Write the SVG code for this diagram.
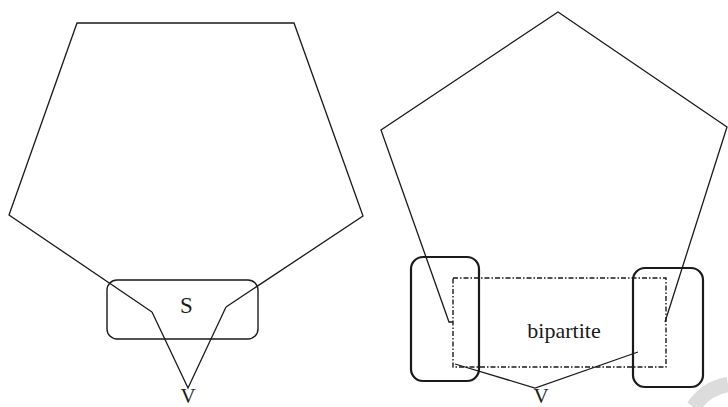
<svg xmlns="http://www.w3.org/2000/svg" width="728" height="407" viewBox="0 0 728 407">
  <style>
    .edge { fill: none; stroke: #1a1a1a; stroke-width: 1.3; stroke-linejoin: miter; }
    .box { fill: none; stroke: #1a1a1a; stroke-width: 1.4; }
    .thick { fill: none; stroke: #1a1a1a; stroke-width: 2.2; }
    .dashdot { fill: none; stroke: #1a1a1a; stroke-width: 1.4; stroke-dasharray: 5 2 1.5 2; }
    .lbl { font-family: "Liberation Serif", "Times New Roman", serif; fill: #1a1a1a; text-anchor: middle; }
  </style>
  <rect width="728" height="407" fill="#ffffff"/>

  <!-- faint ring in the lower right corner -->
  <path d="M 693.5,407 A 52,52 0 0 1 728,384.5" fill="none" stroke="#dcdcdc" stroke-width="15"/>

  <!-- left figure: separator S -->
  <g id="left-cycle">
    <polyline class="edge" points="152,312 9,215 77,23 294,23 363,216 226,307"/>
    <polyline class="edge" points="152,312 188,388 226,307"/>
  </g>
  <g id="separator-S">
    <rect class="box" x="107" y="280" width="151" height="59" rx="10" ry="10"/>
    <text class="lbl" x="186.5" y="313" font-size="23">S</text>
  </g>
  <text class="lbl" x="188" y="403" font-size="21">V</text>

  <!-- right figure: bipartite region -->
  <g id="right-cycle">
    <polyline class="edge" points="453,322 449,322 381,130 558,12 727,127 665,322"/>
    <polyline class="edge" points="455,364 535,388 638,352"/>
  </g>
  <g id="bipartite">
    <rect class="dashdot" x="453" y="278" width="213" height="89"/>
    <text class="lbl" x="564" y="338" font-size="22">bipartite</text>
  </g>
  <g id="left-part">
    <rect class="thick" x="411" y="257" width="68" height="124" rx="12" ry="12"/>
  </g>
  <g id="right-part">
    <rect class="thick" x="633" y="268" width="70" height="119" rx="12" ry="12"/>
  </g>
  <text class="lbl" x="541" y="403" font-size="21">V</text>
</svg>
